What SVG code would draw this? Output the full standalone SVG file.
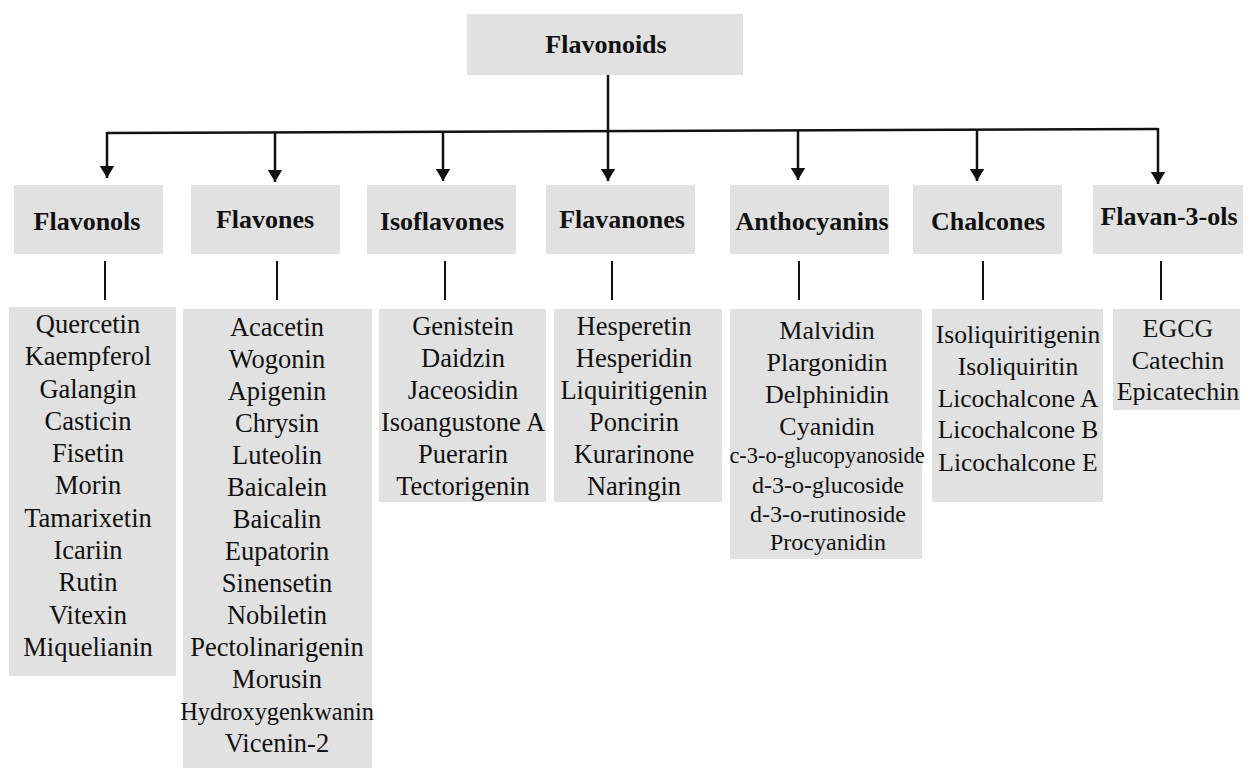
<svg xmlns="http://www.w3.org/2000/svg" width="1252" height="769" viewBox="0 0 1252 769">
<defs>
<style>
.box{fill:#e1e1e1}
.hd{font-family:"Liberation Serif","Times New Roman",serif;font-weight:bold;font-size:26px;fill:#111;text-anchor:middle}
.it{font-family:"Liberation Serif","Times New Roman",serif;font-size:26.5px;fill:#111;text-anchor:middle}
.ln{stroke:#111;stroke-width:2.5;fill:none}
.sh{stroke:#111;stroke-width:2;fill:none}
</style>
<marker id="ah" markerWidth="6" markerHeight="6" refX="5" refY="3" orient="auto" markerUnits="strokeWidth">
<path d="M0,0 L5,3 L0,6 Z" fill="#111"/>
</marker>
</defs>
<rect width="1252" height="769" fill="#fff"/>

<g id="connectors">
<line class="ln" x1="608" y1="75" x2="608" y2="181" marker-end="url(#ah)"/>
<line class="ln" x1="107" y1="133" x2="1158" y2="129"/>
<line class="ln" x1="107" y1="132" x2="107" y2="178" marker-end="url(#ah)"/>
<line class="ln" x1="1158" y1="128" x2="1158" y2="184" marker-end="url(#ah)"/>
<line class="ln" x1="275" y1="132.5" x2="275" y2="182" marker-end="url(#ah)"/>
<line class="ln" x1="443" y1="132" x2="443" y2="181" marker-end="url(#ah)"/>
<line class="ln" x1="798" y1="131" x2="798" y2="180" marker-end="url(#ah)"/>
<line class="ln" x1="977" y1="130" x2="977" y2="181" marker-end="url(#ah)"/>
<line class="sh" x1="105" y1="261" x2="105" y2="300"/>
<line class="sh" x1="277" y1="261" x2="277" y2="300"/>
<line class="sh" x1="445" y1="261" x2="445" y2="300"/>
<line class="sh" x1="612" y1="261" x2="612" y2="300"/>
<line class="sh" x1="799" y1="261" x2="799" y2="300"/>
<line class="sh" x1="983" y1="261" x2="983" y2="300"/>
<line class="sh" x1="1161" y1="261" x2="1161" y2="300"/>
</g>

<g id="flavonoids">
<rect class="box" x="467" y="14" width="276" height="61"/>
<text class="hd" x="606" y="53">Flavonoids</text>
</g>

<g id="flavonols">
<rect class="box" x="14" y="185" width="149" height="69"/>
<text class="hd" x="87" y="230">Flavonols</text>
</g>
<g id="flavones">
<rect class="box" x="191" y="185" width="149" height="69"/>
<text class="hd" x="265" y="228">Flavones</text>
</g>
<g id="isoflavones">
<rect class="box" x="367" y="185" width="149" height="69"/>
<text class="hd" x="442" y="230">Isoflavones</text>
</g>
<g id="flavanones">
<rect class="box" x="546" y="185" width="149" height="69"/>
<text class="hd" x="622" y="228">Flavanones</text>
</g>
<g id="anthocyanins">
<rect class="box" x="730" y="185" width="159" height="69"/>
<text class="hd" x="812" y="230">Anthocyanins</text>
</g>
<g id="chalcones">
<rect class="box" x="913" y="185" width="149" height="69"/>
<text class="hd" x="988" y="230">Chalcones</text>
</g>
<g id="flavan3ols">
<rect class="box" x="1093" y="185" width="150" height="69"/>
<text class="hd" x="1169" y="225">Flavan-3-ols</text>
</g>

<g id="flavonols-list">
<rect class="box" x="9" y="307" width="167" height="369"/>
<text class="it" x="88" y="333">Quercetin</text>
<text class="it" x="88" y="365">Kaempferol</text>
<text class="it" x="88" y="398">Galangin</text>
<text class="it" x="88" y="430">Casticin</text>
<text class="it" x="88" y="462">Fisetin</text>
<text class="it" x="88" y="494">Morin</text>
<text class="it" x="88" y="527">Tamarixetin</text>
<text class="it" x="88" y="559">Icariin</text>
<text class="it" x="88" y="591">Rutin</text>
<text class="it" x="88" y="624">Vitexin</text>
<text class="it" x="88" y="656">Miquelianin</text>
</g>

<g id="flavones-list">
<rect class="box" x="183" y="309" width="189" height="459"/>
<text class="it" x="277" y="336">Acacetin</text>
<text class="it" x="277" y="368">Wogonin</text>
<text class="it" x="277" y="400">Apigenin</text>
<text class="it" x="277" y="432">Chrysin</text>
<text class="it" x="277" y="464">Luteolin</text>
<text class="it" x="277" y="496">Baicalein</text>
<text class="it" x="277" y="528">Baicalin</text>
<text class="it" x="277" y="560">Eupatorin</text>
<text class="it" x="277" y="592">Sinensetin</text>
<text class="it" x="277" y="624">Nobiletin</text>
<text class="it" x="277" y="656">Pectolinarigenin</text>
<text class="it" x="277" y="688">Morusin</text>
<text class="it" x="277" y="720" style="font-size:24.4px">Hydroxygenkwanin</text>
<text class="it" x="277" y="752">Vicenin-2</text>
</g>

<g id="isoflavones-list">
<rect class="box" x="379" y="309" width="167" height="193"/>
<text class="it" x="463" y="335">Genistein</text>
<text class="it" x="463" y="367">Daidzin</text>
<text class="it" x="463" y="399">Jaceosidin</text>
<text class="it" x="463" y="431">Isoangustone A</text>
<text class="it" x="463" y="463">Puerarin</text>
<text class="it" x="463" y="495">Tectorigenin</text>
</g>

<g id="flavanones-list">
<rect class="box" x="554" y="309" width="168" height="193"/>
<text class="it" x="634" y="335">Hesperetin</text>
<text class="it" x="634" y="367">Hesperidin</text>
<text class="it" x="634" y="399">Liquiritigenin</text>
<text class="it" x="634" y="431">Poncirin</text>
<text class="it" x="634" y="463">Kurarinone</text>
<text class="it" x="634" y="495">Naringin</text>
</g>

<g id="anthocyanins-list">
<rect class="box" x="730" y="309" width="192" height="250"/>
<text class="it" x="827" y="339" style="font-size:26px">Malvidin</text>
<text class="it" x="827" y="371" style="font-size:26px">Plargonidin</text>
<text class="it" x="827" y="403" style="font-size:26px">Delphinidin</text>
<text class="it" x="827" y="435" style="font-size:26px">Cyanidin</text>
<text class="it" x="827" y="463" style="font-size:22.4px">c-3-o-glucopyanoside</text>
<text class="it" x="828" y="493" style="font-size:24px">d-3-o-glucoside</text>
<text class="it" x="828" y="522" style="font-size:24px">d-3-o-rutinoside</text>
<text class="it" x="828" y="550" style="font-size:24px">Procyanidin</text>
</g>

<g id="chalcones-list">
<rect class="box" x="932" y="309" width="171" height="193"/>
<text class="it" x="1018" y="343" style="font-size:25.5px">Isoliquiritigenin</text>
<text class="it" x="1018" y="375" style="font-size:25.5px">Isoliquiritin</text>
<text class="it" x="1018" y="407" style="font-size:25.5px">Licochalcone A</text>
<text class="it" x="1018" y="438" style="font-size:25.5px">Licochalcone B</text>
<text class="it" x="1018" y="471" style="font-size:25.5px">Licochalcone E</text>
</g>

<g id="flavan3ols-list">
<rect class="box" x="1113" y="309" width="127" height="101"/>
<text class="it" x="1178" y="337" style="font-size:26px">EGCG</text>
<text class="it" x="1178" y="369" style="font-size:26px">Catechin</text>
<text class="it" x="1178" y="400" style="font-size:26px">Epicatechin</text>
</g>
</svg>
